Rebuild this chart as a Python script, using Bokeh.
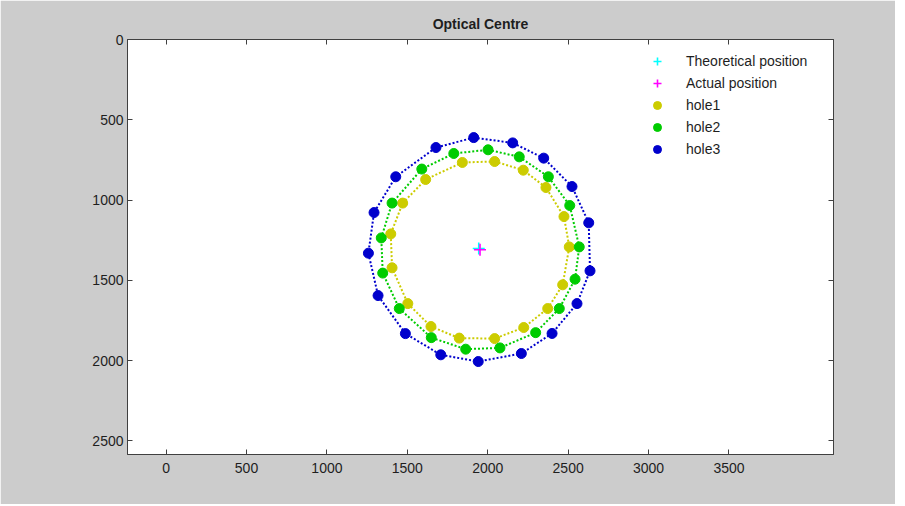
from bokeh.plotting import figure
from bokeh.models import Range1d, LinearAxis, FixedTicker, Legend, LegendItem, CustomJSTickFormatter
from bokeh.embed import file_html
from bokeh.resources import INLINE

# ---- data ----
theo_x = [1944]
theo_y = [1302]
act_x = [1952]
act_y = [1310]

hole1_x = [2043, 2221, 2362, 2474, 2507, 2466, 2373, 2224, 2043, 1823, 1647, 1503, 1405, 1397, 1471, 1614, 1842]
hole1_y = [760, 814, 922, 1103, 1292, 1528, 1676, 1794, 1863, 1860, 1788, 1645, 1422, 1211, 1019, 872, 766]

hole2_x = [2002, 2196, 2377, 2510, 2569, 2543, 2445, 2298, 2076, 1863, 1649, 1450, 1347, 1338, 1405, 1590, 1789]
hole2_y = [687, 731, 855, 1034, 1292, 1493, 1676, 1826, 1921, 1929, 1857, 1676, 1455, 1236, 1019, 807, 710]

hole3_x = [1913, 2155, 2348, 2524, 2628, 2636, 2555, 2400, 2209, 1941, 1708, 1488, 1318, 1258, 1293, 1428, 1678]
hole3_y = [611, 644, 739, 916, 1142, 1441, 1645, 1831, 1956, 2006, 1964, 1832, 1595, 1331, 1078, 855, 673]

x_ticks = [0, 500, 1000, 1500, 2000, 2500, 3000, 3500]
y_ticks = [0, 500, 1000, 1500, 2000, 2500]

FONT = "Liberation Sans"
AXIS_COL = "#404040"
TEXT_COL = "#1e1e1e"
GREY = "#cccccc"

p = figure(
    output_backend="svg", toolbar_location=None,
    frame_width=706, frame_height=415,
    min_border_left=127, min_border_right=62, min_border_top=39, min_border_bottom=50,
    x_range=Range1d(-240, 4150), y_range=Range1d(2585, 0),
    title="Optical Centre",
)
p.border_fill_color = GREY
p.background_fill_color = "white"
p.outline_line_color = AXIS_COL
p.grid.visible = False

p.title.text_font = FONT
p.title.text_font_size = "14px"
p.title.text_font_style = "bold"
p.title.text_color = TEXT_COL
p.title.align = "center"
p.title.standoff = 15

def style_axis(ax, ticks, show_labels, standoff):
    ax.ticker = FixedTicker(ticks=ticks)
    ax.axis_line_color = AXIS_COL
    ax.major_tick_line_color = AXIS_COL
    ax.major_tick_in = 5
    ax.major_tick_out = 0
    ax.minor_tick_line_color = None
    ax.major_label_text_font = FONT
    ax.major_label_text_font_size = "14px"
    ax.major_label_text_color = TEXT_COL
    ax.major_label_standoff = standoff
    if not show_labels:
        ax.formatter = CustomJSTickFormatter(code="return ''")

style_axis(p.xaxis[0], x_ticks, True, 8)
style_axis(p.yaxis[0], y_ticks, True, 4)

top_ax = LinearAxis()
style_axis(top_ax, x_ticks, False, 0)
p.add_layout(top_ax, "above")
right_ax = LinearAxis()
style_axis(right_ax, y_ticks, False, 0)
p.add_layout(right_ax, "right")

# dotted rings
def closed(a):
    return list(a) + [a[0]]

p.line(closed(hole1_x), closed(hole1_y), line_color="#cccc00", line_width=2, line_dash="2 2")
p.line(closed(hole2_x), closed(hole2_y), line_color="#00cc00", line_width=2, line_dash="2 2")
p.line(closed(hole3_x), closed(hole3_y), line_color="#0000cc", line_width=2, line_dash="2 2")

r_theo = p.scatter(theo_x, theo_y, marker="cross", size=12, line_color="#00ffff", line_width=1.6)
r_act = p.scatter(act_x, act_y, marker="cross", size=12, line_color="#ff00ff", line_width=1.6)
r1 = p.scatter(hole1_x, hole1_y, marker="circle", size=10, fill_color="#cccc00", line_color="#cccc00")
r2 = p.scatter(hole2_x, hole2_y, marker="circle", size=10, fill_color="#00cc00", line_color="#00cc00")
r3 = p.scatter(hole3_x, hole3_y, marker="circle", size=10, fill_color="#0000cc", line_color="#0000cc")

legend = Legend(items=[
    LegendItem(label="Theoretical position", renderers=[r_theo]),
    LegendItem(label="Actual position", renderers=[r_act]),
    LegendItem(label="hole1", renderers=[r1]),
    LegendItem(label="hole2", renderers=[r2]),
    LegendItem(label="hole3", renderers=[r3]),
], location=(520, 295))
legend.border_line_color = None
legend.background_fill_alpha = 0
legend.padding = 0
legend.margin = 0
legend.spacing = 2
legend.glyph_width = 20
legend.glyph_height = 20
legend.label_height = 20
legend.label_standoff = 19
legend.label_text_font = FONT
legend.label_text_font_size = "14px"
legend.label_text_color = TEXT_COL
p.add_layout(legend, "center")

open("out.html", "w").write(file_html(p, INLINE))
